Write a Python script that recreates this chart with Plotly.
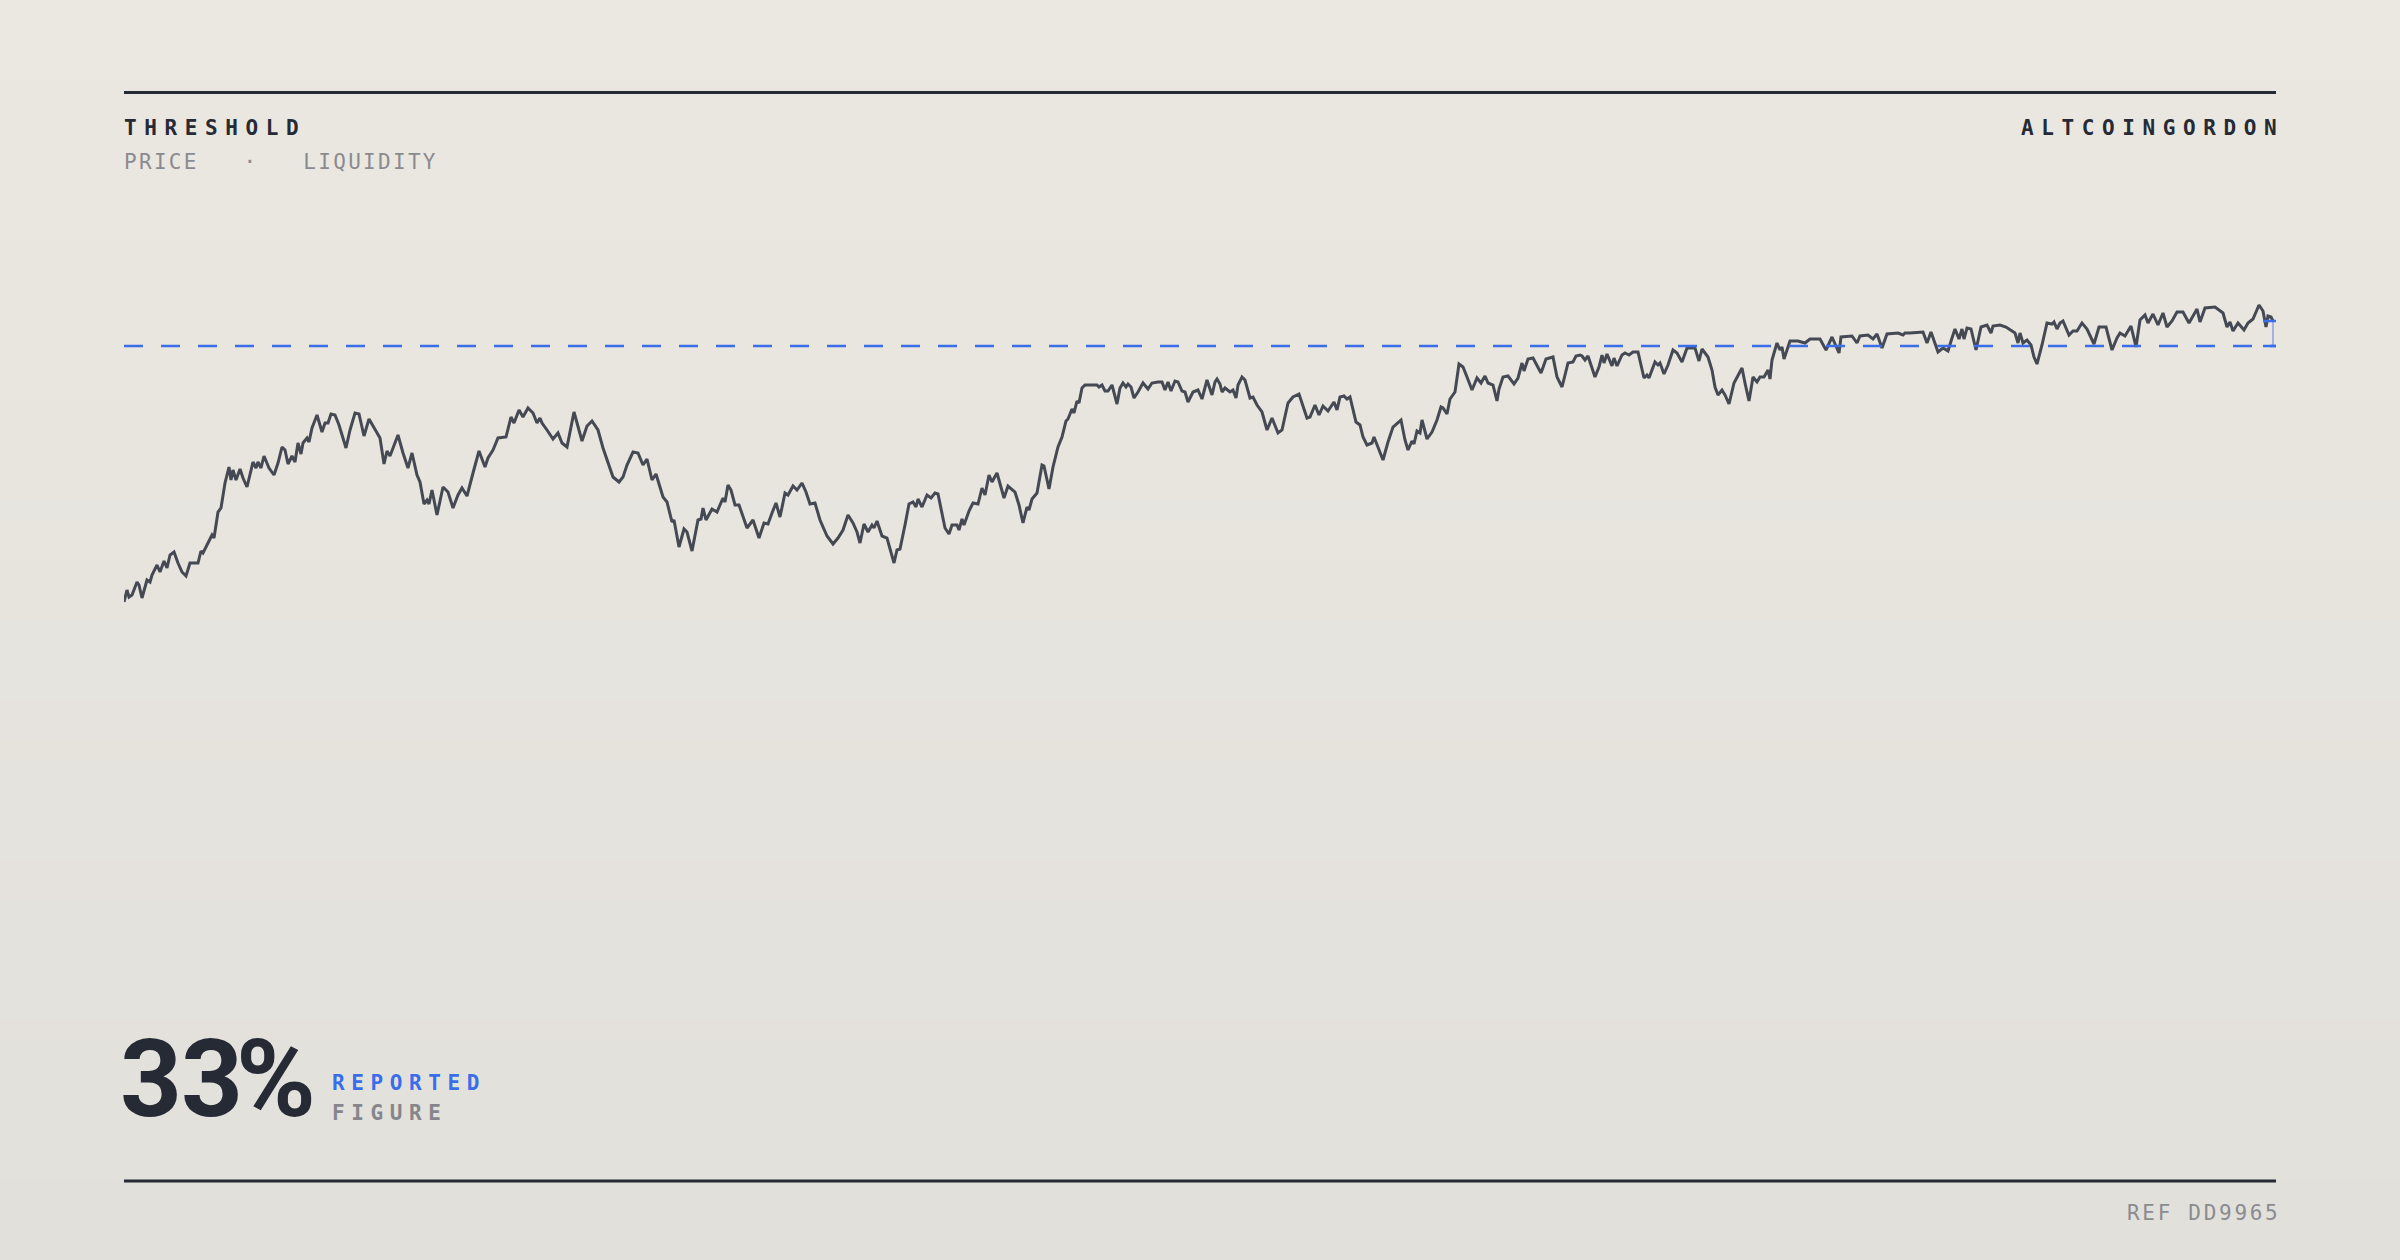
import plotly.graph_objects as go

# ---------------- data ----------------
day = [0, 3, 5, 8, 13, 15, 18, 23, 26, 28, 33, 36, 40, 43, 46, 50, 54, 58, 62, 66, 69, 74, 77, 79, 84, 88, 90, 94, 97,
       101, 105, 107, 109, 112, 116, 119, 123, 129, 132, 134, 137, 140, 145, 150, 154, 158, 161, 164, 168, 171, 174,
       177, 179, 183, 185, 188, 193, 198, 201, 204, 207, 211, 215, 222, 226, 231, 235, 240, 245, 251, 256, 260, 263,
       266, 274, 279, 284, 288, 293, 296, 300, 303, 305, 308, 313, 319, 324, 329, 334, 338, 343, 349, 355, 361, 364,
       369, 374, 382, 387, 390, 395, 399, 404, 409, 413, 416, 418, 423, 429, 434, 438, 443, 450, 458, 463, 468, 474,
       479, 484, 489, 495, 499, 503, 509, 514, 519, 523, 528, 532, 539, 543, 548, 550, 555, 560, 563, 568, 574, 577,
       579, 582, 588, 593, 599, 601, 604, 607, 611, 615, 619, 623, 629, 635, 640, 644, 648, 652, 656, 661, 664, 669,
       673, 678, 682, 686, 691, 696, 703, 709, 714, 719, 724, 729, 733, 736, 740, 744, 748, 750, 753, 758, 763, 766,
       770, 773, 776, 781, 785, 789, 792, 794, 798, 803, 807, 811, 814, 821, 825, 828, 833, 835, 838, 840, 845, 849,
       854, 858, 861, 865, 868, 873, 876, 880, 884, 891, 895, 899, 903, 905, 908, 913, 918, 920, 925, 929, 934, 938,
       942, 944, 948, 950, 953, 955, 958, 961, 968, 973, 975, 978, 981, 984, 988, 993, 996, 999, 1002, 1004, 1007,
       1010, 1014, 1019, 1024, 1028, 1034, 1038, 1041, 1044, 1047, 1051, 1054, 1058, 1061, 1064, 1069, 1074, 1078,
       1083, 1088, 1091, 1093, 1096, 1098, 1101, 1106, 1109, 1112, 1114, 1118, 1121, 1126, 1129, 1133, 1138, 1143,
       1148, 1154, 1158, 1164, 1169, 1175, 1183, 1186, 1191, 1195, 1199, 1204, 1210, 1213, 1216, 1220, 1223, 1226,
       1232, 1236, 1239, 1243, 1248, 1250, 1254, 1259, 1264, 1269, 1277, 1281, 1284, 1288, 1290, 1293, 1296, 1298,
       1303, 1308, 1313, 1317, 1319, 1323, 1326, 1331, 1335, 1339, 1343, 1348, 1353, 1357, 1361, 1364, 1369, 1373,
       1375, 1379, 1384, 1390, 1394, 1398, 1400, 1404, 1409, 1413, 1417, 1422, 1429, 1433, 1438, 1444, 1449, 1452,
       1456, 1458, 1461, 1464, 1471, 1475, 1478, 1480, 1483, 1488, 1490, 1493, 1498, 1501, 1505, 1509, 1514, 1520,
       1523, 1525, 1531, 1534, 1536, 1540, 1544, 1549, 1553, 1558, 1563, 1571, 1575, 1578, 1584, 1588, 1591, 1594,
       1598, 1601, 1605, 1610, 1614, 1618, 1621, 1625, 1629, 1633, 1636, 1640, 1644, 1646, 1648, 1653, 1656, 1658,
       1660, 1666, 1674, 1681, 1686, 1696, 1702, 1708, 1715, 1717, 1728, 1733, 1736, 1744, 1749, 1753, 1758, 1763,
       1774, 1779, 1781, 1786, 1799, 1803, 1807, 1811, 1814, 1819, 1824, 1828, 1831, 1835, 1838, 1840, 1843, 1847,
       1852, 1857, 1863, 1867, 1869, 1876, 1882, 1888, 1891, 1894, 1896, 1899, 1903, 1907, 1910, 1913, 1918, 1923,
       1928, 1930, 1933, 1936, 1939, 1942, 1945, 1949, 1953, 1958, 1963, 1970, 1975, 1982, 1988, 1993, 1996, 2001,
       2007, 2012, 2016, 2021, 2024, 2029, 2034, 2039, 2043, 2048, 2053, 2059, 2065, 2073, 2076, 2081, 2091, 2099,
       2103, 2106, 2109, 2114, 2120, 2124, 2129, 2135, 2139, 2142, 2144, 2147, 2149]

price = [44, 56, 49, 51, 64, 61, 48, 66, 64, 71, 81, 74, 85, 78, 91, 94, 83, 74, 70, 83, 83, 83, 95, 93, 103, 111, 108,
         134, 138, 163, 179, 166, 176, 166, 177, 168, 159, 184, 178, 184, 178, 190, 178, 171, 183, 199, 196, 182, 190,
         184, 203, 192, 203, 208, 204, 218, 231, 214, 223, 223, 232, 231, 221, 198, 216, 233, 232, 210, 227, 216, 208,
         182, 195, 190, 211, 193, 178, 193, 171, 164, 142, 146, 142, 156, 131, 159, 154, 138, 151, 158, 150, 173, 195,
         179, 188, 196, 208, 209, 229, 223, 236, 229, 238, 233, 223, 228, 223, 216, 207, 213, 203, 199, 234, 205, 220,
         225, 216, 198, 183, 169, 164, 169, 181, 194, 193, 181, 187, 166, 172, 149, 144, 124, 126, 99, 117, 114, 95,
         126, 127, 138, 126, 137, 134, 148, 144, 161, 156, 141, 141, 130, 118, 126, 108, 123, 122, 133, 143, 129, 153,
         151, 160, 156, 163, 154, 142, 143, 126, 110, 102, 108, 116, 131, 123, 114, 103, 122, 114, 121, 118, 125, 110,
         108, 98, 83, 96, 97, 121, 142, 144, 139, 147, 139, 151, 148, 153, 152, 118, 112, 121, 121, 116, 127, 121, 135,
         143, 142, 158, 151, 171, 164, 173, 161, 148, 160, 154, 141, 123, 139, 136, 147, 153, 181, 180, 157, 179, 199,
         209, 225, 227, 237, 233, 245, 243, 258, 261, 261, 261, 259, 261, 255, 255, 261, 242, 258, 263, 259, 262, 259,
         248, 254, 263, 257, 263, 264, 264, 256, 264, 255, 265, 264, 255, 254, 244, 254, 256, 247, 266, 251, 264, 267,
         262, 254, 258, 254, 256, 248, 261, 269, 266, 248, 249, 241, 234, 216, 228, 213, 216, 243, 249, 252, 228, 229,
         241, 231, 240, 235, 244, 236, 249, 250, 247, 249, 224, 221, 209, 201, 203, 209, 198, 186, 204, 219, 226, 206,
         196, 205, 202, 215, 213, 226, 207, 214, 226, 239, 238, 232, 247, 254, 282, 279, 269, 256, 268, 263, 270, 263,
         261, 245, 257, 269, 270, 262, 268, 283, 275, 287, 288, 281, 273, 287, 289, 269, 259, 283, 284, 290, 291, 290,
         286, 290, 269, 279, 291, 283, 292, 280, 288, 280, 291, 293, 291, 294, 294, 268, 271, 268, 284, 281, 283, 272,
         281, 296, 293, 284, 298, 298, 285, 297, 289, 276, 259, 251, 256, 251, 242, 263, 270, 278, 263, 245, 269, 264,
         269, 269, 276, 267, 286, 303, 296, 299, 287, 305, 305, 303, 307, 307, 296, 309, 293, 309, 310, 303, 310, 311,
         307, 312, 298, 312, 313, 311, 313, 313, 314, 303, 314, 303, 294, 298, 295, 308, 317, 307, 317, 307, 318, 317,
         296, 319, 321, 313, 320, 321, 319, 315, 313, 303, 313, 303, 306, 301, 289, 282, 301, 323, 322, 324, 317, 323,
         325, 318, 311, 315, 315, 323, 317, 302, 319, 319, 296, 308, 313, 310, 320, 299, 326, 331, 323, 332, 321, 333,
         319, 325, 334, 334, 323, 337, 324, 338, 339, 333, 319, 324, 315, 323, 316, 323, 327, 341, 335, 319, 330, 329,
         325]

threshold = 300

title_left = "THRESHOLD"
subtitle_left = "PRICE\u00a0\u00a0\u00a0·\u00a0\u00a0\u00a0LIQUIDITY"
title_right = "ALTCOINGORDON"
big_figure = "33%"
figure_label_1 = "REPORTED"
figure_label_2 = "FIGURE"
ref_label = "REF DD9965"

# ---------------- layout geometry ----------------
W, H = 2400, 1260
L, R, T, B = 124, 2276, 250, 1010
X_RANGE = [0, 2152]
Y_RANGE = [646 - B, 646 - T]


def fx(px):
    return (px - L) / (R - L)


def fy(py):
    return (B - py) / (B - T)


DARK = "#262a35"
GRAY = "#8a8b90"
BLUE = "#3a6ee8"
LINE = "#454954"
MONO = "DejaVu Sans Mono"

fig = go.Figure()

fig.add_trace(go.Scatter(
    x=day, y=price, mode="lines",
    line=dict(color=LINE, width=3),
    hoverinfo="skip", showlegend=False,
))

shapes = []

# background gradient (top warm-light to bottom slightly greyer)
top_c = (235, 232, 225)
bot_c = (226, 224, 219)
n = 63
for i in range(n):
    t = i / (n - 1)
    c = tuple(round(top_c[k] + (bot_c[k] - top_c[k]) * t) for k in range(3))
    y0 = i * H / n
    y1 = (i + 1) * H / n + 1
    shapes.append(dict(type="rect", xref="paper", yref="paper",
                       x0=fx(0), x1=fx(W), y0=fy(y1), y1=fy(y0),
                       fillcolor="rgb(%d,%d,%d)" % c, line=dict(width=0), layer="below"))

# rules
for ypx in (92.5, 1181):
    shapes.append(dict(type="line", xref="paper", yref="paper",
                       x0=0, x1=1, y0=fy(ypx), y1=fy(ypx),
                       line=dict(color=DARK, width=3)))

# threshold dashed line
shapes.append(dict(type="line", xref="paper", yref="y",
                   x0=0, x1=1, y0=threshold, y1=threshold,
                   line=dict(color=BLUE, width=2.4, dash="19px,18px")))

# bracket between last value and threshold
last_x = day[-1]
last_y = price[-1]
shapes.append(dict(type="line", xref="x", yref="y",
                   x0=last_x, x1=last_x, y0=threshold, y1=last_y,
                   line=dict(color="rgba(58,110,232,0.55)", width=1.5)))
for yv in (threshold, last_y):
    shapes.append(dict(type="line", xref="x", yref="y",
                       x0=last_x - 10, x1=last_x + 10, y0=yv, y1=yv,
                       line=dict(color=BLUE, width=2.5)))


def spaced(text, px):
    return '<span style="letter-spacing:%spx">%s</span>' % (px, text)


big_text = spaced(big_figure[0], -1) + spaced(big_figure[1], -7) + big_figure[2:]

annotations = [
    dict(text=spaced(title_left, 7.6), x=fx(123), y=fy(127.5), xanchor="left", align="left",
         font=dict(family=MONO, size=21, color=DARK, weight=700)),
    dict(text=spaced(subtitle_left, 2.3), x=fx(123), y=fy(162), xanchor="left", align="left",
         font=dict(family=MONO, size=21, color=GRAY)),
    dict(text=spaced(title_right, 7.6), x=fx(2285), y=fy(127.5), xanchor="right", align="right",
         font=dict(family=MONO, size=21, color=DARK, weight=700)),
    dict(text=big_text, x=fx(119), y=fy(1079), xanchor="left", align="left",
         font=dict(family="Roboto", size=108, color=DARK, weight=700)),
    dict(text=spaced(figure_label_1, 6.6), x=fx(331), y=fy(1083), xanchor="left", align="left",
         font=dict(family=MONO, size=21, color=BLUE, weight=700)),
    dict(text=spaced(figure_label_2, 6.6), x=fx(331), y=fy(1113), xanchor="left", align="left",
         font=dict(family=MONO, size=21, color="#85868c", weight=700)),
    dict(text=spaced(ref_label, 2.7), x=fx(2281), y=fy(1212.5), xanchor="right", align="right",
         font=dict(family=MONO, size=21, color=GRAY)),
]
for a in annotations:
    a.update(xref="paper", yref="paper", yanchor="middle", showarrow=False, borderpad=0)

fig.update_layout(
    width=W, height=H, autosize=False,
    margin=dict(l=L, r=W - R, t=T, b=H - B, pad=0),
    paper_bgcolor="rgb(231,229,223)",
    plot_bgcolor="rgba(0,0,0,0)",
    xaxis=dict(range=X_RANGE, visible=False, fixedrange=True),
    yaxis=dict(range=Y_RANGE, visible=False, fixedrange=True),
    shapes=shapes,
    annotations=annotations,
    showlegend=False,
    hovermode=False,
)

fig.write_html(
    "out.html",
    config={"displayModeBar": False},
    post_script="document.body.style.margin='0';document.body.style.padding='0';"
                "document.body.style.overflow='hidden';",
)
